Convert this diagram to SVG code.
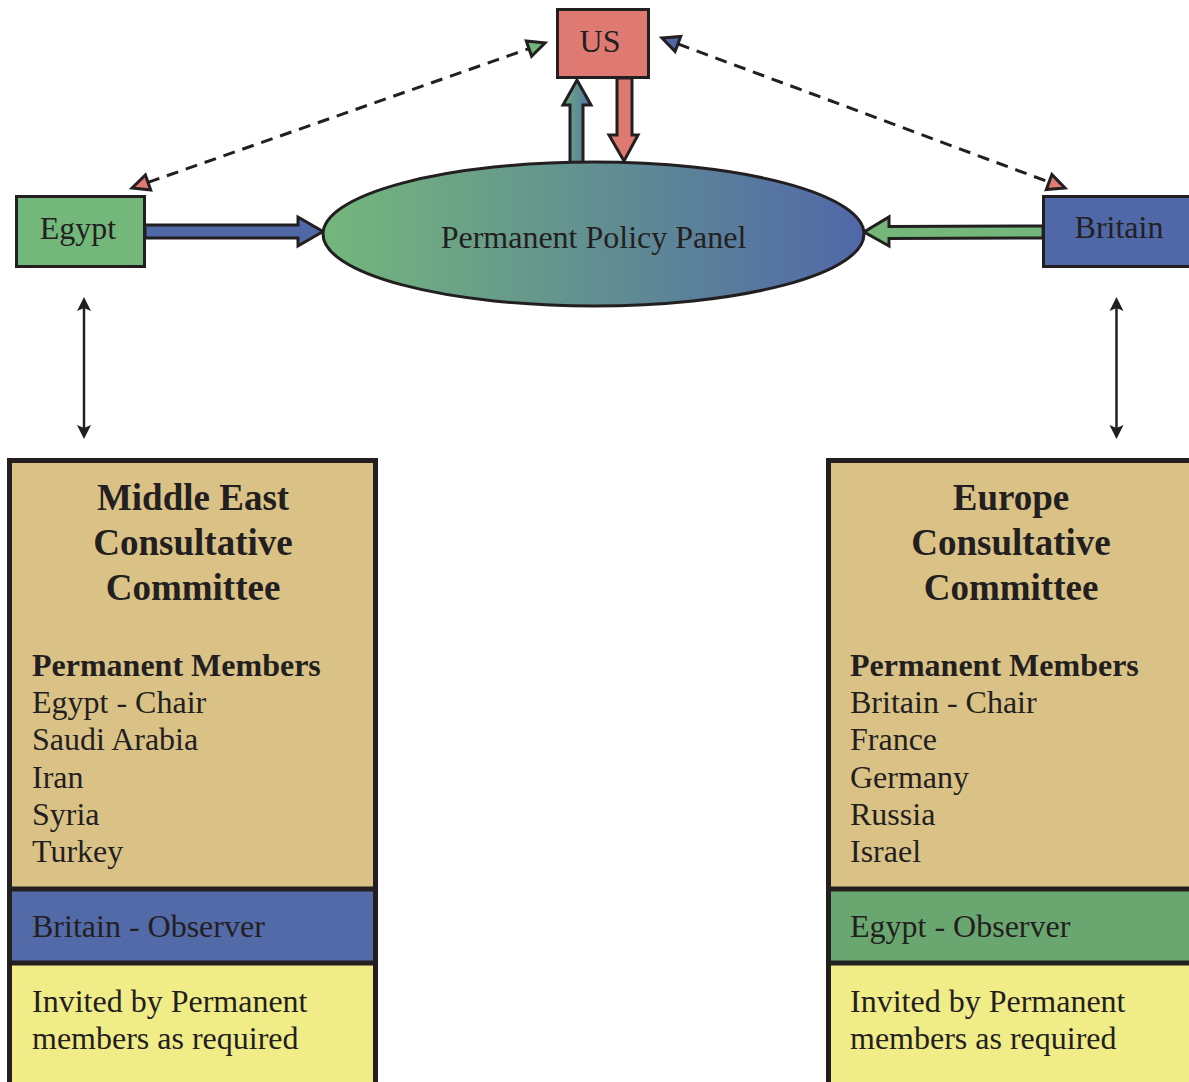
<svg xmlns="http://www.w3.org/2000/svg" width="1189" height="1082" viewBox="0 0 1189 1082">
<defs>
<linearGradient id="gPanel" x1="322" y1="0" x2="864" y2="0" gradientUnits="userSpaceOnUse">
<stop offset="0" stop-color="#74b77b"/>
<stop offset="1" stop-color="#5068a8"/>
</linearGradient>
<linearGradient id="gUp" x1="0" y1="0" x2="1" y2="0">
<stop offset="0" stop-color="#6cae80"/>
<stop offset="1" stop-color="#5272a6"/>
</linearGradient>
<style>
.t{font-family:"Liberation Serif","Times New Roman",serif;fill:#231f20;}
.r{font-size:32px;}
.b{font-size:37px;font-weight:bold;}
.bm{font-size:32px;font-weight:bold;}
.ln{stroke:#231f20;stroke-width:3;stroke-linejoin:miter;}
.dash{stroke:#231f20;stroke-width:3;stroke-dasharray:12 8;fill:none;}
.head{stroke:#231f20;stroke-width:3;stroke-linejoin:miter;}
.thin{stroke:#231f20;stroke-width:2.5;fill:none;}
.box{fill:none;stroke:#231f20;stroke-width:5;}
</style>
</defs>
<rect width="1189" height="1082" fill="#ffffff"/>

<g id="connectors">
<!-- dashed Egypt <-> US -->
<line class="dash" x1="148" y1="182.4" x2="529" y2="48.6"/>
<polygon class="head" fill="#de7a72" points="132,188 150.7,190 145.4,174.9"/>
<polygon class="head" fill="#74b77b" points="545,43 531.6,56.2 526.3,41.1"/>
<!-- dashed US <-> Britain -->
<line class="dash" x1="677.9" y1="43.9" x2="1049.1" y2="182.1"/>
<polygon class="head" fill="#5068a8" points="662,38 675.1,51.4 680.7,36.4"/>
<polygon class="head" fill="#de7a72" points="1065,188 1046.3,189.6 1051.9,174.6"/>
<!-- block arrows -->
<polygon class="ln" fill="#5068a8" points="145,225 298,225 298,217 323,231.5 298,246 298,238 145,238"/>
<polygon class="ln" fill="#74b77b" points="1043,226 889,226.5 889,217 864,232 889,246 889,238.5 1043,238"/>
<polygon class="ln" fill="url(#gUp)" points="570,168 570,105 563,105 577,80 591,105 583,105 583,168"/>
<polygon class="ln" fill="#de7a72" points="617,78 617,135 609,135 624,161 638,135 632,135 632,78"/>
<!-- vertical double arrows -->
<line class="thin" x1="84" y1="304" x2="84" y2="432"/>
<polygon fill="#231f20" points="84,297 91,311 84,308 77,311"/>
<polygon fill="#231f20" points="84,439 91,425 84,428 77,425"/>
<line class="thin" x1="1116.5" y1="304" x2="1116.5" y2="432"/>
<polygon fill="#231f20" points="1116.5,297 1123.5,311 1116.5,308 1109.5,311"/>
<polygon fill="#231f20" points="1116.5,439 1123.5,425 1116.5,428 1109.5,425"/>
</g>

<g id="us">
<rect class="ln" x="557.5" y="9.5" width="91" height="68" fill="#de7a72"/>
<text class="t r" x="600" y="52" text-anchor="middle">US</text>
</g>

<g id="egypt">
<rect class="ln" x="16.5" y="196.5" width="128" height="70" fill="#74b77b"/>
<text class="t r" x="78" y="239" text-anchor="middle">Egypt</text>
</g>

<g id="britain">
<rect class="ln" x="1043.5" y="196.5" width="150" height="70" fill="#5068a8"/>
<text class="t r" x="1119" y="238" text-anchor="middle">Britain</text>
</g>

<g id="panel">
<ellipse class="ln" cx="593.5" cy="234" rx="270.5" ry="72" fill="url(#gPanel)"/>
<text class="t r" x="593.5" y="248" text-anchor="middle">Permanent Policy Panel</text>
</g>

<g id="me-committee">
<rect x="9.5" y="460.5" width="366" height="428.5" fill="#dac287"/>
<rect x="9.5" y="889" width="366" height="74" fill="#536aa8"/>
<rect x="9.5" y="963" width="366" height="130" fill="#f0ec88"/>
<line class="box" x1="9.5" y1="889" x2="375.5" y2="889"/>
<line class="box" x1="9.5" y1="963" x2="375.5" y2="963"/>
<rect class="box" x="9.5" y="460.5" width="366" height="640"/>
<text class="t b" x="193" y="510" text-anchor="middle">Middle East</text>
<text class="t b" x="193" y="555" text-anchor="middle">Consultative</text>
<text class="t b" x="193" y="600" text-anchor="middle">Committee</text>
<text class="t bm" x="32" y="676">Permanent Members</text>
<text class="t r" x="32" y="713">Egypt - Chair</text>
<text class="t r" x="32" y="750">Saudi Arabia</text>
<text class="t r" x="32" y="788">Iran</text>
<text class="t r" x="32" y="825">Syria</text>
<text class="t r" x="32" y="862">Turkey</text>
<text class="t r" x="32" y="937">Britain - Observer</text>
<text class="t r" x="32" y="1012">Invited by Permanent</text>
<text class="t r" x="32" y="1049">members as required</text>
</g>

<g id="eu-committee">
<rect x="828.5" y="460.5" width="370" height="428.5" fill="#dac287"/>
<rect x="828.5" y="889" width="370" height="74" fill="#6aa66f"/>
<rect x="828.5" y="963" width="370" height="130" fill="#f0ec88"/>
<line class="box" x1="828.5" y1="889" x2="1198" y2="889"/>
<line class="box" x1="828.5" y1="963" x2="1198" y2="963"/>
<rect class="box" x="828.5" y="460.5" width="380" height="640"/>
<text class="t b" x="1011" y="510" text-anchor="middle">Europe</text>
<text class="t b" x="1011" y="555" text-anchor="middle">Consultative</text>
<text class="t b" x="1011" y="600" text-anchor="middle">Committee</text>
<text class="t bm" x="850" y="676">Permanent Members</text>
<text class="t r" x="850" y="713">Britain - Chair</text>
<text class="t r" x="850" y="750">France</text>
<text class="t r" x="850" y="788">Germany</text>
<text class="t r" x="850" y="825">Russia</text>
<text class="t r" x="850" y="862">Israel</text>
<text class="t r" x="850" y="937">Egypt - Observer</text>
<text class="t r" x="850" y="1012">Invited by Permanent</text>
<text class="t r" x="850" y="1049">members as required</text>
</g>
</svg>
